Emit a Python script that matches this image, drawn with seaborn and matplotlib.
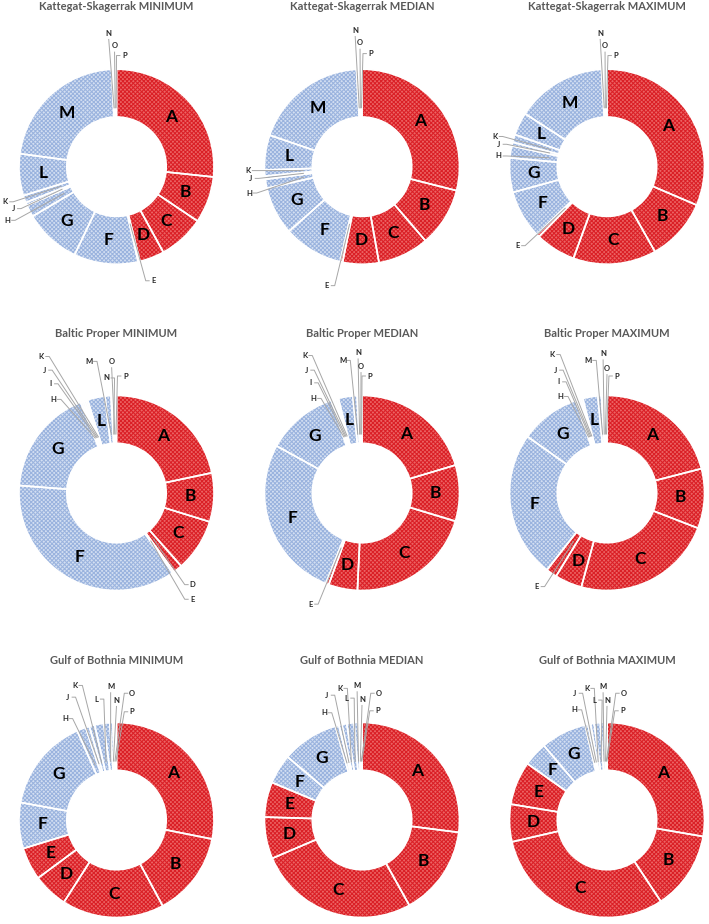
import numpy as np
import matplotlib
matplotlib.use("Agg")
import matplotlib.pyplot as plt
import seaborn as sns

# ---------------- data ----------------
categories = list("ABCDEFGHIJKLMNOP")
red_categories = ["A", "B", "C", "D", "E"]
regions = ["Kattegat-Skagerrak", "Baltic Proper", "Gulf of Bothnia"]
stats = ["MINIMUM", "MEDIAN", "MAXIMUM"]

#          A     B     C     D    E    F     G     H    I    J    K    L    M     N    O    P
ks_min = [26.6, 7.7, 7.6, 4.1, 0.3, 10.6, 9.4, 2.0, 0.0, 0.5, 1.2, 6.9, 22.0, 0.3, 0.3, 0.2]
ks_med = [29.0, 9.8, 8.5, 6.0, 0.4, 9.9, 8.0, 1.5, 0.0, 0.5, 1.0, 5.8, 18.9, 0.3, 0.3, 0.3]
ks_max = [31.5, 10.4, 13.8, 6.7, 0.5, 8.0, 5.7, 2.0, 0.0, 0.6, 1.3, 3.8, 15.0, 0.3, 0.3, 0.3]
bp_min = [21.7, 8.1, 8.7, 1.5, 0.3, 36.0, 17.8, 0.3, 0.3, 0.3, 0.3, 2.9, 1.0, 0.3, 0.3, 0.3]
bp_med = [20.4, 9.3, 21.1, 4.8, 0.5, 27.0, 11.9, 0.3, 0.3, 0.3, 0.3, 2.4, 0.7, 0.3, 0.3, 0.2]
bp_max = [21.0, 9.9, 23.4, 4.5, 1.8, 24.3, 10.0, 0.3, 0.3, 0.3, 0.3, 2.5, 0.6, 0.3, 0.3, 0.3]
gb_min = [28.1, 14.0, 16.9, 5.8, 5.4, 7.6, 15.5, 1.5, 0.0, 0.6, 0.9, 1.5, 1.0, 0.5, 0.3, 0.3]
gb_med = [27.0, 14.9, 26.6, 6.9, 5.8, 4.9, 9.4, 0.6, 0.0, 0.5, 0.8, 1.2, 0.7, 0.3, 0.2, 0.1]
gb_max = [27.7, 13.0, 30.7, 6.2, 7.2, 4.0, 7.6, 0.5, 0.0, 0.4, 0.6, 1.0, 0.6, 0.2, 0.2, 0.1]

values = {
    ("Kattegat-Skagerrak", "MINIMUM"): ks_min,
    ("Kattegat-Skagerrak", "MEDIAN"): ks_med,
    ("Kattegat-Skagerrak", "MAXIMUM"): ks_max,
    ("Baltic Proper", "MINIMUM"): bp_min,
    ("Baltic Proper", "MEDIAN"): bp_med,
    ("Baltic Proper", "MAXIMUM"): bp_max,
    ("Gulf of Bothnia", "MINIMUM"): gb_min,
    ("Gulf of Bothnia", "MEDIAN"): gb_med,
    ("Gulf of Bothnia", "MAXIMUM"): gb_max,
}

# ---------------- layout (positions of outside labels, in radius units) ----------------
ext_labels = {
    ("Kattegat-Skagerrak", "MINIMUM"): {"N": (-0.08, 1.37), "O": (-0.02, 1.24), "P": (0.08, 1.14),
                                        "K": (-1.14, -0.36), "J": (-1.06, -0.43), "H": (-1.12, -0.55),
                                        "E": (0.38, -1.17)},
    ("Kattegat-Skagerrak", "MEDIAN"): {"N": (-0.07, 1.40), "O": (-0.02, 1.27), "P": (0.09, 1.16),
                                       "K": (-1.17, -0.04), "J": (-1.14, -0.12), "H": (-1.16, -0.27),
                                       "E": (-0.36, -1.22)},
    ("Kattegat-Skagerrak", "MAXIMUM"): {"N": (-0.07, 1.37), "O": (-0.02, 1.24), "P": (0.09, 1.14),
                                        "K": (-1.15, 0.31), "J": (-1.11, 0.23), "H": (-1.11, 0.11),
                                        "E": (-0.92, -0.81)},
    ("Baltic Proper", "MINIMUM"): {"K": (-0.77, 1.40), "J": (-0.74, 1.26), "I": (-0.68, 1.12),
                                   "H": (-0.65, 0.96), "M": (-0.28, 1.35), "N": (-0.10, 1.18),
                                   "O": (-0.05, 1.35), "P": (0.09, 1.20), "D": (0.78, -0.94),
                                   "E": (0.78, -1.09)},
    ("Baltic Proper", "MEDIAN"): {"K": (-0.59, 1.41), "J": (-0.57, 1.26), "I": (-0.53, 1.13),
                                  "H": (-0.50, 0.97), "M": (-0.20, 1.36), "N": (-0.04, 1.44),
                                  "O": (-0.01, 1.30), "P": (0.08, 1.20), "E": (-0.53, -1.14)},
    ("Baltic Proper", "MAXIMUM"): {"K": (-0.56, 1.42), "J": (-0.53, 1.26), "I": (-0.50, 1.14),
                                   "H": (-0.48, 0.99), "M": (-0.19, 1.36), "N": (-0.04, 1.43),
                                   "O": (0.00, 1.28), "P": (0.10, 1.20), "E": (-0.72, -0.96)},
    ("Gulf of Bothnia", "MINIMUM"): {"K": (-0.43, 1.38), "J": (-0.50, 1.26), "H": (-0.53, 1.04),
                                     "L": (-0.21, 1.24), "M": (-0.06, 1.37), "N": (0.0, 1.23),
                                     "O": (0.16, 1.30), "P": (0.16, 1.11)},
    ("Gulf of Bothnia", "MEDIAN"): {"J": (-0.36, 1.28), "K": (-0.23, 1.35), "H": (-0.39, 1.10),
                                    "L": (-0.16, 1.25), "M": (-0.05, 1.38), "N": (0.0, 1.24),
                                    "O": (0.17, 1.30), "P": (0.16, 1.12)},
    ("Gulf of Bothnia", "MAXIMUM"): {"J": (-0.33, 1.30), "K": (-0.21, 1.35), "H": (-0.34, 1.13),
                                     "L": (-0.13, 1.23), "M": (-0.04, 1.37), "N": (0.0, 1.23),
                                     "O": (0.17, 1.30), "P": (0.16, 1.12)},
}

# ---------------- style ----------------
sns.set_theme(style="white")
plt.rcParams["font.family"] = ["Lato", "DejaVu Sans"]
plt.rcParams["hatch.linewidth"] = 0.75

W, H = 709, 924
fig = plt.figure(figsize=(W / 100, H / 100), dpi=100)
fig.patch.set_facecolor("white")

col_x = [116.5, 362.0, 607.0]
row_y = [166.7, 493.0, 820.0]
R_PX = 97.5
LIM = 1.7
RING = 0.49

red_face, red_hatch = "#EC6464", "#DA1F26"
blue_face, blue_hatch = "#D3DFF2", "#9AB3DE"
label_grey = "#A6A6A6"

for ri, region in enumerate(regions):
    for si, stat in enumerate(stats):
        key = (region, stat)
        vals = np.array(values[key], dtype=float)
        cx, cy = col_x[si], row_y[ri]
        size = 2 * LIM * R_PX
        ax = fig.add_axes([(cx - LIM * R_PX) / W, 1 - (cy + LIM * R_PX) / H, size / W, size / H])
        faces = [red_face if c in red_categories else blue_face for c in categories]
        hatches = [red_hatch if c in red_categories else blue_hatch for c in categories]
        wedges, _ = ax.pie(vals, startangle=90, counterclock=False, colors=faces,
                           wedgeprops=dict(width=RING, linewidth=0))
        for w, hc in zip(wedges, hatches):
            w.set_hatch("xxxxxxxx")
            w.set_edgecolor(hc)
            w.set_linewidth(0)
        ax.pie(vals, startangle=90, counterclock=False, colors=["none"] * len(vals),
               wedgeprops=dict(width=RING, linewidth=1.2, edgecolor="white"))
        ax.set_xlim(-LIM, LIM)
        ax.set_ylim(-LIM, LIM)
        ax.set_aspect("auto")
        ax.axis("off")

        total = vals.sum()
        cum = np.concatenate([[0], np.cumsum(vals)[:-1]])
        mids = np.deg2rad(90 - 360 * (cum + vals / 2) / total)
        ext = ext_labels.get(key, {})
        for cat, v, m in zip(categories, vals, mids):
            if v <= 0:
                continue
            if cat in ext:
                lx, ly = ext[cat]
                axp, ayp = 0.6 * np.cos(m), 0.6 * np.sin(m)
                dx = axp - lx
                if dx > 0.06:
                    p0 = (lx + 0.04, ly)
                    p1 = (lx + 0.08, ly)
                elif dx < -0.06:
                    p0 = (lx - 0.04, ly)
                    p1 = (lx - 0.08, ly)
                else:
                    p0 = (lx, ly - 0.06)
                    p1 = p0
                ax.plot([p0[0], p1[0], axp], [p0[1], p1[1], ayp], color=label_grey, lw=0.7,
                        solid_capstyle="butt", zorder=5)
                ax.text(lx, ly, cat, ha="center", va="center", fontsize=5.5, fontweight="bold",
                        color="#262626", zorder=6)
            else:
                r = 1 - RING / 2
                ax.text(r * np.cos(m), r * np.sin(m), cat, ha="center", va="center",
                        fontsize=12.5, fontweight="bold", color="black", zorder=6)
        ax.text(0, 1.64, f"{region} {stat}", ha="center", va="center", fontsize=8,
                fontweight="bold", color="#595959", clip_on=False)

fig.savefig("out.png", dpi=100, facecolor="white")
